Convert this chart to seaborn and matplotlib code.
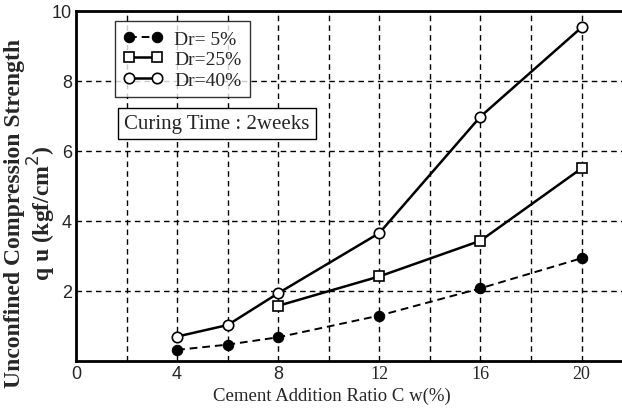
import numpy as np
import pandas as pd
import matplotlib
matplotlib.use("Agg")
import matplotlib.pyplot as plt
from matplotlib.ticker import FixedLocator
import seaborn as sns

# data
cw_5 = [4, 6, 8, 12, 16, 20]
qu_5 = [0.31, 0.46, 0.67, 1.29, 2.07, 2.93]
cw_25 = [8, 12, 16, 20]
qu_25 = [1.57, 2.41, 3.43, 5.50]
cw_40 = [4, 6, 8, 12, 16, 20]
qu_40 = [0.69, 1.02, 1.93, 3.65, 6.98, 9.53]
labels = ["Dr= 5%", "Dr=25%", "Dr=40%"]

sns.set_style("white")
plt.rcParams["font.family"] = ["Liberation Serif", "DejaVu Serif"]

fig = plt.figure(figsize=(6.22, 4.14), dpi=100)
ax = fig.add_axes([76 / 622, 1 - 361.7 / 414, 546 / 622, 349.7 / 414])

# dashed grid first so the lines sit on top
grid_kw = dict(color="black", lw=1.0, ls=(0, (4, 3)), zorder=1)
for gx in range(2, 21, 2):
    ax.axvline(gx, **grid_kw)
for gy in range(2, 9, 2):
    ax.axhline(gy, **grid_kw)

sns.lineplot(x=cw_5, y=qu_5, ax=ax, color="black", lw=1.4, linestyle=(0, (4, 2.5)),
             marker="o", markersize=7.5, markerfacecolor="black", markeredgecolor="black",
             label=labels[0], zorder=3)
sns.lineplot(x=cw_25, y=qu_25, ax=ax, color="black", lw=1.8,
             marker="s", markersize=7.5, markerfacecolor="white", markeredgecolor="black",
             markeredgewidth=1.2, label=labels[1], zorder=3)
sns.lineplot(x=cw_40, y=qu_40, ax=ax, color="black", lw=1.8,
             marker="o", markersize=7.5, markerfacecolor="white", markeredgecolor="black",
             markeredgewidth=1.2, label=labels[2], zorder=3)

ax.set_xlim(0, 21.6)
ax.set_ylim(0, 10)
ax.xaxis.set_major_locator(FixedLocator([0, 4, 8, 12, 16, 20]))
ax.xaxis.set_minor_locator(FixedLocator([2, 6, 10, 14, 18]))
ax.yaxis.set_major_locator(FixedLocator([2, 4, 6, 8, 10]))
ax.yaxis.set_minor_locator(FixedLocator([1, 3, 5, 7, 9]))
ax.tick_params(axis="both", which="both", direction="in", color="black", width=1.2,
               top=False, right=False)
ax.tick_params(axis="both", which="major", length=6, labelsize=13, pad=3)
ax.tick_params(axis="both", which="minor", length=6)
for t in ax.get_yticklabels():
    t.set_fontfamily("Liberation Sans")
for t in ax.get_xticklabels():
    if t.get_text() in ("0", "4", "8"):
        t.set_fontfamily("Liberation Sans")

for side in ["left", "bottom", "top"]:
    ax.spines[side].set_color("black")
    ax.spines[side].set_linewidth(2)
ax.spines["right"].set_visible(False)

ax.set_xlabel("Cement Addition Ratio C w(%)", fontsize=13.5)
ax.xaxis.set_label_coords(0.469, -0.075)
ax.set_ylabel("")
fig.text(31 / 622, 1 - 213 / 414, "Unconfined Compression Strength\nq u (kgf/cm$^2$)",
         rotation=90, ha="center", va="center", fontsize=17, fontweight="bold",
         linespacing=1.05)

leg = ax.legend(loc="upper left", bbox_to_anchor=(0.071, 0.971), borderaxespad=0,
                fontsize=14, frameon=True, fancybox=False, numpoints=2,
                handlelength=2.0, handletextpad=0.6, labelspacing=0.15,
                borderpad=0.45)
leg.get_frame().set_edgecolor("black")
leg.get_frame().set_linewidth(1.0)
leg.set_zorder(5)

ax.text(0.258, 0.678, "Curing Time : 2weeks", transform=ax.transAxes, fontsize=15,
        ha="center", va="center", zorder=5,
        bbox=dict(boxstyle="square,pad=0.3", fc="white", ec="black", lw=1.0))

fig.savefig("out.png", dpi=100)
